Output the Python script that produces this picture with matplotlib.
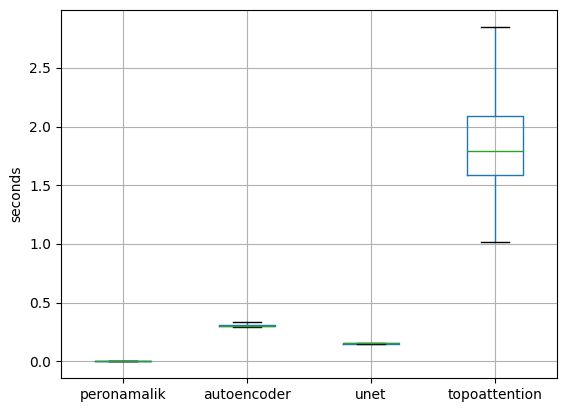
import matplotlib
matplotlib.use("Agg")
import matplotlib.pyplot as plt

# Box statistics (seconds)
models = ["peronamalik", "autoencoder", "unet", "topoattention"]
whislo = [0.000, 0.291, 0.146, 1.014]
q1 = [0.001, 0.300, 0.150, 1.584]
med = [0.002, 0.302, 0.152, 1.788]
q3 = [0.003, 0.305, 0.155, 2.091]
whishi = [0.005, 0.333, 0.159, 2.850]

stats = [
	{"label": m, "whislo": lo, "q1": a, "med": md, "q3": b, "whishi": hi, "fliers": []}
	for m, lo, a, md, b, hi in zip(models, whislo, q1, med, q3, whishi)
]

fig = plt.figure(figsize=(5.67, 4.13), dpi=100)
ax = fig.add_axes([61 / 567, 1 - 378 / 413, 496 / 567, 368 / 413])

ax.bxp(
	stats,
	boxprops={"color": "#1f77b4"},
	whiskerprops={"color": "#1f77b4"},
	medianprops={"color": "#2ca02c"},
	capprops={"color": "k"},
)
ax.grid(True)
ax.set_ylabel("seconds")

fig.savefig("out.png", dpi=100)
